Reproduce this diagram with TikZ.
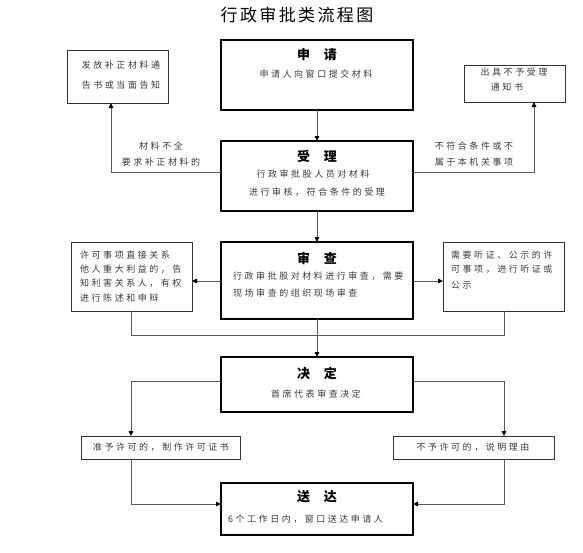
\documentclass[tikz,border=0pt]{standalone}
\usepackage{fontspec}
\newfontfamily\cjk{Noto Sans CJK SC}
\newfontfamily\cjkls[LetterSpace=28]{Noto Sans CJK SC}
\newfontfamily\cjktitle[LetterSpace=14]{Noto Sans CJK SC}
\usetikzlibrary{arrows.meta}
\definecolor{linegray}{HTML}{5A5A5A}
\definecolor{txtgray}{HTML}{3A3A3A}
\newcommand\mkbox[6]{\node[#6, minimum width={#4-#2}, minimum height={#5-#3}] (#1) at ({(#2+#4)/2},{(#3+#5)/2}) {};}
\begin{document}
\begin{tikzpicture}[x=1pt,y=-1pt,
  mainbox/.style={draw=black,line width=1.6pt,inner sep=0pt,outer sep=0pt},
  sidebox/.style={draw=black!80,line width=0.9pt,inner sep=0pt,outer sep=0pt},
  conn/.style={draw=linegray,line width=0.9pt},
  arr/.style={conn,-{Triangle[length=5pt,width=4.5pt,fill=black,color=black]}},
  body/.style={font=\cjkls\fontsize{9}{11}\selectfont,text=txtgray,inner sep=0pt},
  head/.style={font=\cjk\bfseries\fontsize{13}{15}\selectfont,inner sep=0pt},
  ttl/.style={font=\cjktitle\fontsize{17}{20}\selectfont,inner sep=0pt},
]
\useasboundingbox (0,0) rectangle (583,552);

% title
\node[ttl] (title) at (297,15) {行政审批类流程图};

% boxes
\mkbox{n1}{221}{40}{413}{110}{mainbox}
\mkbox{n2}{221}{141}{413}{211}{mainbox}
\mkbox{n3}{221}{242}{413}{319}{mainbox}
\mkbox{n4}{221}{357}{413}{412}{mainbox}
\mkbox{n5}{221}{483}{413}{535}{mainbox}
\mkbox{L1}{67}{50}{168}{103}{sidebox}
\mkbox{R1}{464}{65}{565}{102}{sidebox}
\mkbox{L3}{71}{242}{192}{311}{sidebox}
\mkbox{R3}{443}{242}{564}{311}{sidebox}
\mkbox{L4}{81}{436}{240}{459}{sidebox}
\mkbox{R4}{393}{436}{554}{459}{sidebox}

% texts in main boxes
\node[head] (t1) at (317,55) {申\hspace{14pt}请};
\node[body] (s1) at (316,74) {申请人向窗口提交材料};
\node[head] (t2) at (317,156) {受\hspace{14pt}理};
\node[body] (s2a) at (313,174) {行政审批股人员对材料};
\node[body] (s2b) at (317,192) {进行审核，符合条件的受理};
\node[head] (t3) at (317,258) {审\hspace{14pt}查};
\node[body,anchor=west] (s3a) at (233,276) {行政审批股对材料进行审查，需要};
\node[body,anchor=west] (s3b) at (233,293) {现场审查的组织现场审查};
\node[head] (t4) at (317,373) {决\hspace{14pt}定};
\node[body] (s4) at (316,394) {首席代表审查决定};
\node[head] (t5) at (317,497) {送\hspace{14pt}达};
\node[body,anchor=west] (s5) at (228,519) {6个工作日内，窗口送达申请人};

% side box texts
\node[body] (l1a) at (121,65) {发放补正材料通};
\node[body] (l1b) at (121,85) {告书或当面告知};
\node[body] (r1a) at (514,72) {出具不予受理};
\node[body] (r1b) at (507,87) {通知书};
\node[body,anchor=west] (l3a) at (80,255) {许可事项直接关系};
\node[body,anchor=west] (l3b) at (80,269) {他人重大利益的，告};
\node[body,anchor=west] (l3c) at (80,283) {知利害关系人，有权};
\node[body,anchor=west] (l3d) at (80,298) {进行陈述和申辩};
\node[body,anchor=west] (r3a) at (451,255) {需要听证、公示的许};
\node[body,anchor=west] (r3b) at (451,269) {可事项，进行听证或};
\node[body,anchor=west] (r3c) at (451,285) {公示};
\node[body] (l4t) at (161,447) {准予许可的，制作许可证书};
\node[body] (r4t) at (473,447) {不予许可的，说明理由};

% connector labels
\node[body] (la) at (161,146) {材料不全};
\node[body] (lb) at (161,162) {要求补正材料的};
\node[body] (ra) at (474,146) {不符合条件或不};
\node[body] (rb) at (474,162) {属于本机关事项};

% connectors
\draw[arr] (n1.south) -- (n2.north);
\draw[arr] (n2.west |- 0,172) -| (L1.south -| 111,0);
\draw[arr] (n2.east |- 0,172) -| (R1.south -| 534,0);
\draw[arr] (n2.south) -- (n3.north);
\draw[arr] (n3.west |- 0,281) -- (L3.east |- 0,281);
\draw[arr] (n3.east |- 0,281) -- (R3.west |- 0,281);
\coordinate (jl) at (131,335);
\coordinate (jr) at (504,335);
\draw[conn] (L3.south -| jl) -- (jl) -- (jr) -- (R3.south -| jr);
\draw[arr] (n3.south) -- (n4.north);
\draw[arr] (n4.west |- 0,381) -| (L4.north -| 131,0);
\draw[arr] (n4.east |- 0,381) -| (R4.north -| 504,0);
\draw[arr] (L4.south -| 131,0) |- (n5.west |- 0,504);
\draw[arr] (R4.south -| 504,0) |- (n5.east |- 0,504);
\end{tikzpicture}
\end{document}
